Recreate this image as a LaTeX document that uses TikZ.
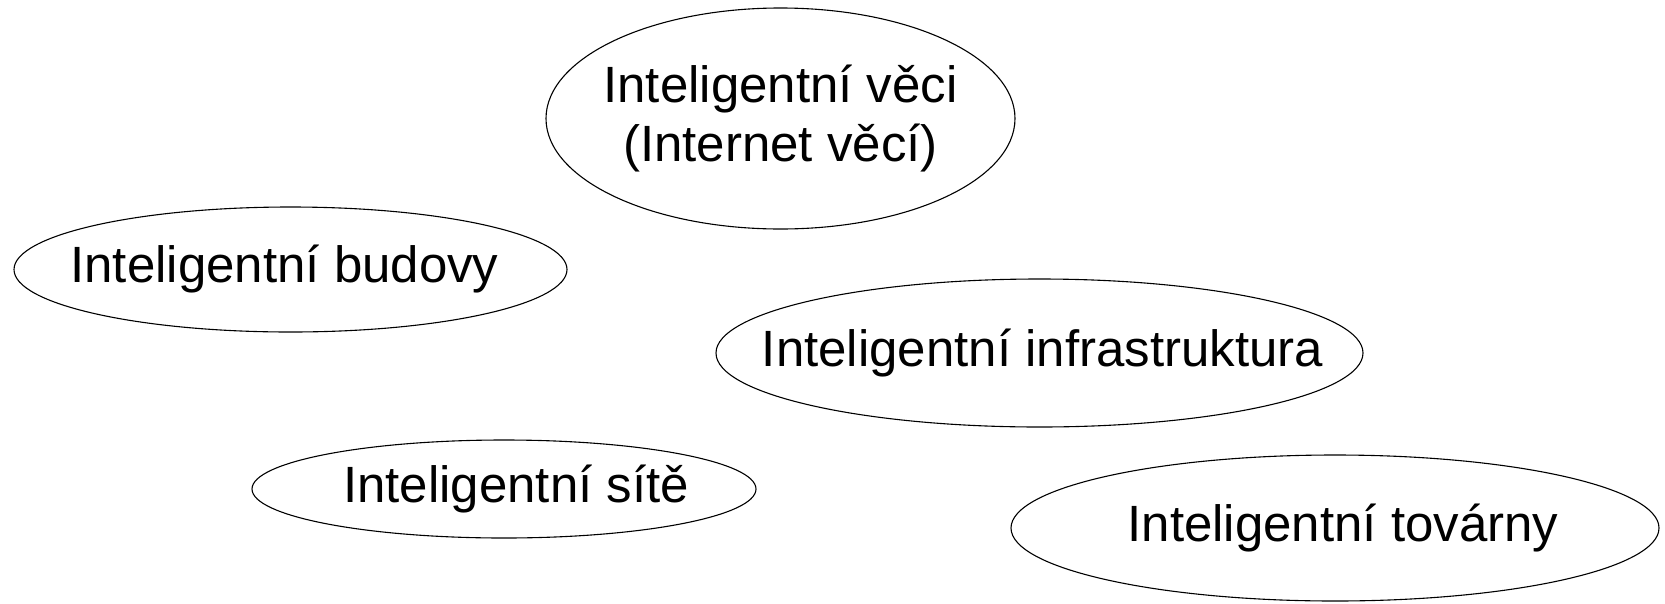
\documentclass[tikz,border=0pt]{standalone}
\usepackage{fontspec}
\setmainfont{Liberation Sans}
\usetikzlibrary{shapes.geometric}

\begin{document}
\begin{tikzpicture}[x=1pt,y=-1pt,
  oval/.style={draw,ellipse,inner sep=0pt,line width=1.1pt},
  txt/.style={inner sep=0pt,align=center,font=\fontsize{51}{59}\selectfont}]
\useasboundingbox (0,0) rectangle (1665,603);

\node[oval,minimum width=469pt,minimum height=221pt,
  label={[txt]center:Inteligentní věci\\(Internet věcí)}] (veci) at (780.5,118.5) {};
\node[oval,minimum width=553pt,minimum height=125pt,
  label={[txt,xshift=-6pt]center:Inteligentní budovy}] (budovy) at (290.5,269.5) {};
\node[oval,minimum width=647pt,minimum height=148pt,
  label={[txt,xshift=3pt]center:Inteligentní infrastruktura}] (infra) at (1039.5,353) {};
\node[oval,minimum width=504pt,minimum height=98pt,
  label={[txt,xshift=12pt]center:Inteligentní sítě}] (site) at (504,489) {};
\node[oval,minimum width=648pt,minimum height=146pt,
  label={[txt,xshift=8pt]center:Inteligentní továrny}] (tovarny) at (1335,528) {};

\end{tikzpicture}
\end{document}
